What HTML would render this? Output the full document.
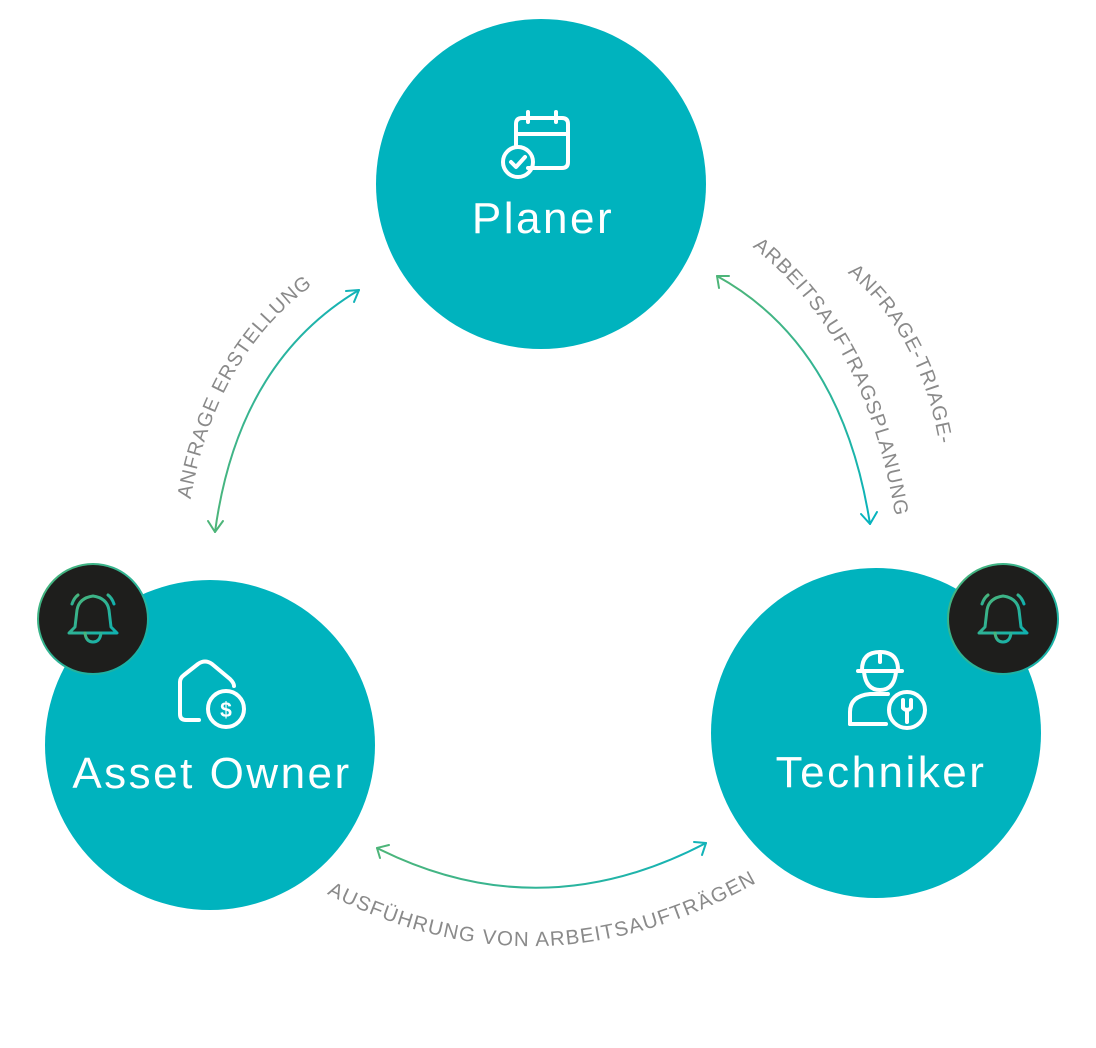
<!DOCTYPE html>
<html><head><meta charset="utf-8"><style>
html,body{margin:0;padding:0;background:#fff;}
svg{display:block;}
</style></head><body>
<svg width="1096" height="1048" viewBox="0 0 1096 1048" xmlns="http://www.w3.org/2000/svg">
<defs>
<linearGradient id="gL" x1="0" y1="1" x2="1" y2="0"><stop offset="0" stop-color="#4db579"/><stop offset="1" stop-color="#12b3b8"/></linearGradient>
<linearGradient id="gR" x1="0" y1="0" x2="0" y2="1"><stop offset="0" stop-color="#4db579"/><stop offset="1" stop-color="#07b3bd"/></linearGradient>
<linearGradient id="gB" x1="0" y1="0" x2="1" y2="0"><stop offset="0" stop-color="#4db579"/><stop offset="1" stop-color="#12b3b8"/></linearGradient>
<linearGradient id="bell" x1="0" y1="0" x2="1" y2="1"><stop offset="0" stop-color="#4db579"/><stop offset="1" stop-color="#10b1b0"/></linearGradient>
<path id="tL" d="M188,515 Q212,350 326,276"/>
<path id="tR1" d="M834,262 Q925,330 942,462"/>
<path id="tR2" d="M738,236 Q870,330 898,535"/>
<path id="tB" d="M316,888 Q540,1010 768,876"/>
</defs>

<circle cx="541" cy="184" r="165" fill="#00b3be"/>
<circle cx="210" cy="745" r="165" fill="#00b3be"/>
<circle cx="876" cy="733" r="165" fill="#00b3be"/>

<g fill="none" stroke-width="2" stroke-linecap="round" stroke-linejoin="round">
<path d="M215,532 Q238,362 359,290" stroke="url(#gL)"/>
<path d="M208,521 L215,532 L223,521" stroke="#4db579"/>
<path d="M346,291 L359,290 L354,302" stroke="#12b3b8"/>
<path d="M717,276 Q842,345 870,524" stroke="url(#gR)"/>
<path d="M719,288 L717,276 L729,276" stroke="#4db579"/>
<path d="M861,514 L870,524 L877,512" stroke="#07b3bd"/>
<path d="M377,848 Q540,930 706,843" stroke="url(#gB)"/>
<path d="M380,858 L377,848 L389,845" stroke="#4db579"/>
<path d="M694,842 L706,843 L702,855" stroke="#12b3b8"/>
</g>

<g font-family="'Liberation Sans',sans-serif" font-size="20" fill="#8a8a8a" letter-spacing="1">
<text><textPath href="#tL" startOffset="50%" text-anchor="middle">ANFRAGE ERSTELLUNG</textPath></text>
<text><textPath href="#tR1" startOffset="50%" text-anchor="middle">ANFRAGE-TRIAGE-</textPath></text>
<text><textPath href="#tR2" startOffset="50%" text-anchor="middle">ARBEITSAUFTRAGSPLANUNG</textPath></text>
<text font-size="20.5" letter-spacing="1.2"><textPath href="#tB" startOffset="50%" text-anchor="middle">AUSFÜHRUNG VON ARBEITSAUFTRÄGEN</textPath></text>
</g>

<g font-family="'Liberation Sans',sans-serif" font-size="44" fill="#fff" text-anchor="middle" letter-spacing="2.5">
<text x="543" y="233">Planer</text>
<text x="212" y="788">Asset Owner</text>
<text x="881" y="787">Techniker</text>
</g>

<g fill="none" stroke="#fff" stroke-width="4" stroke-linecap="round" stroke-linejoin="round">
<path d="M528,168 L562,168 Q568,168 568,162 L568,124 Q568,118 562,118 L522,118 Q516,118 516,124 L516,146"/>
<line x1="516" y1="134" x2="568" y2="134"/>
<line x1="528" y1="112" x2="528" y2="122"/>
<line x1="556" y1="112" x2="556" y2="122"/>
<circle cx="518" cy="162" r="15"/>
<path d="M511,162 L516,167 L525,157"/>
</g>

<g fill="none" stroke="#fff" stroke-width="4" stroke-linecap="round" stroke-linejoin="round">
<path d="M199,720 L186,720 Q180,720 180,714 L180,682 Q180,678 184,675 L198,664 Q205,659 212,664 L230,679 Q234,683 234,686"/>
<circle cx="226" cy="709" r="18"/>
</g>
<text x="226" y="717" font-family="'Liberation Sans',sans-serif" font-weight="bold" font-size="21" fill="#fff" text-anchor="middle">$</text>

<g fill="none" stroke="#fff" stroke-width="4" stroke-linecap="round" stroke-linejoin="round">
<path d="M862,670 Q862,652 880,652 Q898,652 898,670"/>
<line x1="858" y1="671" x2="902" y2="671"/>
<line x1="880" y1="652" x2="880" y2="662"/>
<path d="M864,672 Q866,690 880,690 Q894,690 896,672"/>
<path d="M850,724 L850,712 Q850,696 870,694 L888,694"/>
<line x1="850" y1="724" x2="886" y2="724"/>
<circle cx="907" cy="710" r="18"/>
<path d="M903,700 L903,708 Q907,712 911,708 L911,700 M907,712 L907,722"/>
</g>

<g>
<circle cx="93" cy="619" r="55" fill="#1e1e1c" stroke="url(#bell)" stroke-width="2"/>
<circle cx="1003" cy="619" r="55" fill="#1e1e1c" stroke="url(#bell)" stroke-width="2"/>
<g fill="none" stroke="url(#bell)" stroke-width="3" stroke-linecap="round" stroke-linejoin="round">
<path d="M69,633 L75,627 L77,610 Q79,598 93,596 Q107,598 109,610 L111,627 L117,633 Z"/>
<path d="M85,633 Q86,642 93,642 Q100,642 101,633"/>
<path d="M72,604 Q74,598 78,595 M108,595 Q112,598 114,604"/>
<path d="M979,633 L985,627 L987,610 Q989,598 1003,596 Q1017,598 1019,610 L1021,627 L1027,633 Z"/>
<path d="M995,633 Q996,642 1003,642 Q1010,642 1011,633"/>
<path d="M982,604 Q984,598 988,595 M1018,595 Q1022,598 1024,604"/>
</g>
</g>
</svg>
</body></html>
